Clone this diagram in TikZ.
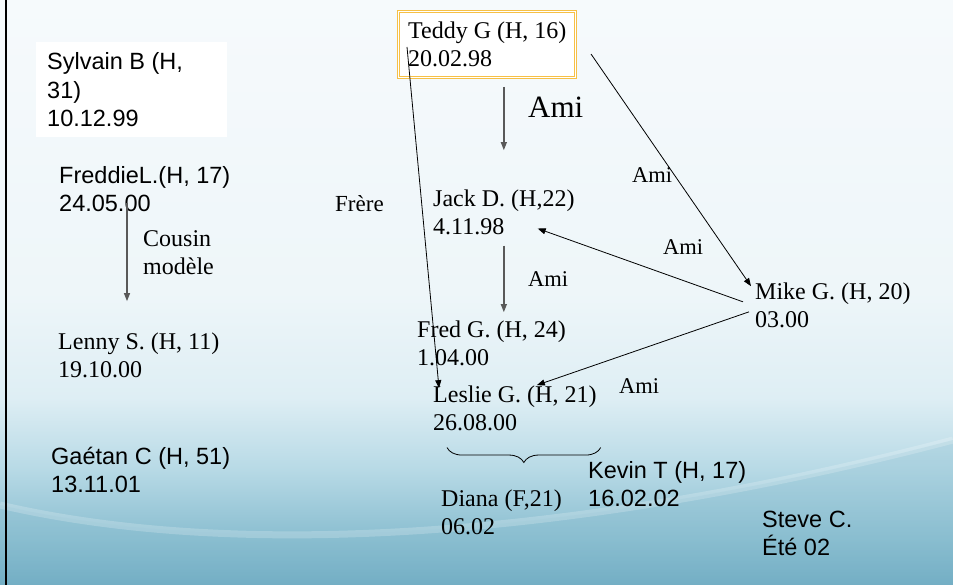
\documentclass[tikz,border=0pt]{standalone}
\usepackage{fontspec}
\setmainfont{Liberation Serif}
\newfontfamily\arialf{Liberation Sans}
\usetikzlibrary{arrows.meta}
\usetikzlibrary{decorations.pathreplacing}

\definecolor{boxgold}{RGB}{246,192,70}
\definecolor{bgtop}{RGB}{246,250,252}
\definecolor{bgwash}{RGB}{238,246,249}
\definecolor{bgpale}{RGB}{222,238,244}
\definecolor{bglow}{RGB}{184,218,230}
\definecolor{bgdeep}{RGB}{138,190,208}
\definecolor{bgbot}{RGB}{106,168,192}
\pgfdeclareverticalshading{slidebg}{100bp}{color(0bp)=(bgbot); color(25bp)=(bgbot); color(29bp)=(bgdeep); color(35bp)=(bglow); color(41bp)=(bgpale); color(50bp)=(bgwash); color(75bp)=(bgtop); color(100bp)=(bgtop)}

\begin{document}
\begin{tikzpicture}[x=1pt,y=-1pt,
	nm/.style={inner sep=0pt,anchor=base west,align=left,font=\fontsize{24}{28}\selectfont},
	nmsf/.style={nm,font=\arialf\fontsize{23.5}{28}\selectfont},
	ami/.style={inner sep=0pt,anchor=base west,font=\fontsize{22.5}{27}\selectfont},
	rel/.style={-{Triangle[length=8pt,width=6pt]},line width=0.8pt},
	relg/.style={rel,draw=black!65,line width=1.3pt},
	tbox/.style={draw=boxgold,double=white,double distance=1.3pt,line width=1pt,fill=white,outer sep=0pt,inner sep=0pt}]
\useasboundingbox (0,0) rectangle (953,585);
% fond de la diapo
\shade[shading=slidebg] (0,0) rectangle (953,585);
\fill[bgdeep,opacity=0.3] (0,505) .. controls (280,570) and (650,520) .. (953,440) -- (953,585) -- (0,585) -- cycle;
\draw[white,opacity=0.2,line width=7pt] (0,505) .. controls (280,570) and (650,520) .. (953,440);
\draw[line width=2.5pt] (6,0) -- (6,585);
\fill[white] (36,42) rectangle (227,137);
\node[tbox,anchor=north west,minimum width=176.8pt,minimum height=65.8pt] (TB) at (398.6,11.6) {};

% base = derniere ligne
\node[nm] (T) at (408,67) {Teddy G (H, 16)\\20.02.98};
\node[nm] (J) at (433,235) {Jack D. (H,22)\\4.11.98};
\node[nm] (FG) at (417,365) {Fred G. (H, 24)\\1.04.00};
\node[nm] (LG) at (433,430) {Leslie G. (H, 21)\\26.08.00};
\node[nm] (M) at (755,327) {Mike G. (H, 20)\\03.00};
\node[nm] (D) at (441,534) {Diana (F,21)\\06.02};
\node[nm] (LS) at (58,377) {Lenny S. (H, 11)\\19.10.00};
\node[nmsf,font=\arialf\fontsize{23.5}{28.5}\selectfont] (SB) at (47,127) {Sylvain B (H,\\31)\\10.12.99};
\node[nmsf] (FL) at (59,212) {FreddieL.(H, 17)\\24.05.00};
\node[nmsf] (GC) at (51,492) {Gaétan C (H, 51)\\13.11.01};
\node[nmsf] (KT) at (588,506) {Kevin T (H, 17)\\16.02.02};
\node[nmsf] (SC) at (762,555) {Steve C.\\Été 02};

\node[ami,font=\fontsize{31}{36}\selectfont] (A0) at (528,118) {Ami};
\node[ami] (A1) at (632,183) {Ami};
\node[ami] (A2) at (663,255) {Ami};
\node[ami] (A3) at (528,287) {Ami};
\node[ami] (A4) at (619,393) {Ami};
\node[ami,font=\fontsize{23}{27}\selectfont] (FR) at (335,212) {Frère};
\node[nm] (CM) at (143,275) {Cousin\\modèle};

\draw[relg,shorten <=9.6pt,shorten >=40pt] (TB.south -| J.north) -- (J.north);
\draw[relg,shorten <=10pt,shorten >=8pt] (J.south) -- (J.south |- FG.north);
\draw[rel] ([xshift=15.6pt,yshift=-9.5pt]TB.east) -- ([xshift=-4pt,yshift=-4pt]M.north west);
\draw[rel] ([xshift=-12pt,yshift=3pt]M.west) -- ([xshift=-37pt,yshift=7pt]J.south east);
\draw[rel] ([xshift=-6pt,yshift=-7pt]M.west) -- ([xshift=22pt]LG.north);
%frere
\draw[rel] ([xshift=-1pt,yshift=20pt]T.base west) -- ([xshift=6pt,yshift=-3pt]LG.north west);
\draw[relg] ([xshift=68pt,yshift=9pt]FL.base west) -- ([xshift=69pt,yshift=31pt]LS.north west);
\draw[decorate,decoration={brace,mirror,amplitude=15pt},line width=0.8pt] ([xshift=14pt,yshift=-17pt]LG.south west) -- ([xshift=4pt,yshift=-17pt]LG.south east);
\end{tikzpicture}
\end{document}
